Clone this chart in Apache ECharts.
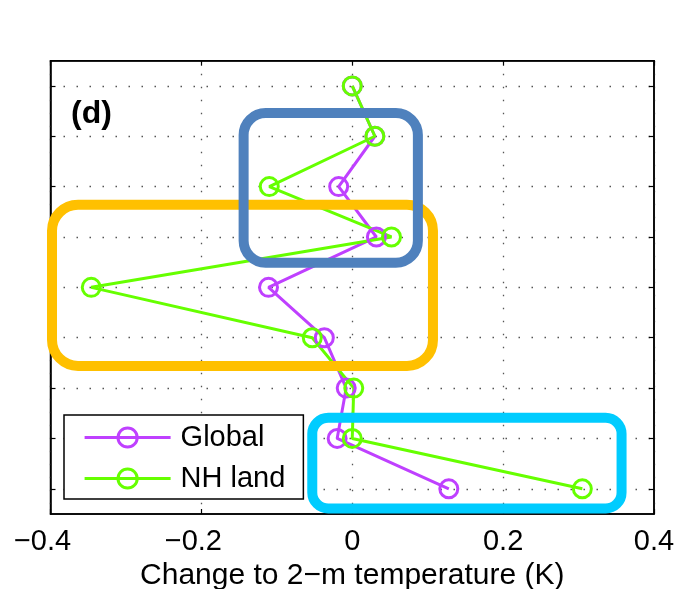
<!DOCTYPE html>
<html>
<head>
<meta charset="utf-8">
<script src="https://cdn.jsdelivr.net/npm/echarts@6/dist/echarts.min.js"></script>
<style>
html,body{margin:0;padding:0;background:#fff;}
#chart{width:677px;height:589px;}
</style>
</head>
<body>
<div id="chart"></div>
<script>
// Vertical positions (row index, top to bottom)
var rows = [1, 2, 3, 4, 5, 6, 7, 8, 9];
// Change to 2-m temperature (K)
var globalVals = [0.0, 0.03, -0.018, 0.032, -0.111, -0.037, -0.008, -0.020, 0.128];
var nhLandVals = [0.0, 0.03, -0.110, 0.052, -0.346, -0.053, 0.002, 0.000, 0.305];
var xTicks = [-0.4, -0.2, 0, 0.2, 0.4];
var seriesNames = ['Global', 'NH land'];
var panelLabel = '(d)';
var xAxisTitle = 'Change to 2\u2212m temperature (K)';
// Highlight boxes in data space: [xMin, xMax, rowTop, rowBottom]
var boxOrange = [-0.398, 0.107, 3.36, 6.56];
var boxBlue = [-0.144, 0.087, 1.54, 4.51];
var boxCyan = [-0.053, 0.357, 7.59, 9.39];

var PURPLE = '#BF40FF';
var GREEN = '#66FF00';
var FONT = '"Liberation Sans", Arial, Helvetica, sans-serif';

function pairs(xs) { return xs.map(function (v, i) { return [v, rows[i]]; }); }

var chart = echarts.init(document.getElementById('chart'), null, {renderer: 'canvas'});

var dotted = {color: '#555', width: 1.3, type: [1.5, 11.5]};
var frameLine = {show: true, onZero: false, lineStyle: {color: '#000', width: 1.5}};
var inTick = {show: true, inside: true, length: 5, lineStyle: {color: '#000', width: 1.2}};

function mkSeries(name, vals, color) {
  return {
    name: name, type: 'line', data: pairs(vals),
    symbol: 'circle', symbolSize: 18,
    itemStyle: {color: 'rgba(0,0,0,0)', borderColor: color, borderWidth: 3},
    lineStyle: {color: color, width: 3},
    emphasis: {disabled: true},
    z: 3
  };
}

var option = {
  animation: false,
  backgroundColor: '#fff',
  title: {
    text: panelLabel, left: 71, top: 98, padding: 0,
    textStyle: {fontFamily: FONT, fontSize: 32, fontWeight: 'bold', color: '#000'}
  },
  grid: {left: 50.5, right: 23, top: 60.7, bottom: 75, show: true, borderColor: '#000', borderWidth: 1.5,
         backgroundColor: 'transparent', outerBoundsMode: 'none', containLabel: false},
  legend: {
    orient: 'vertical', left: 64, top: 415,
    data: seriesNames,
    backgroundColor: '#fff', borderColor: '#000', borderWidth: 1.5, borderRadius: 0,
    padding: [8, 18, 6, 19],
    itemWidth: 86, itemHeight: 24, itemGap: 12,
    lineStyle: {width: 3.2},
    itemStyle: {borderWidth: 3},
    textStyle: {fontFamily: FONT, fontSize: 29, lineHeight: 24, color: '#000', padding: [0, 0, 0, 5]},
    selectedMode: false
  },
  xAxis: [{
    type: 'value', min: xTicks[0], max: xTicks[xTicks.length - 1], interval: 0.2,
    position: 'bottom',
    axisLine: frameLine, axisTick: inTick,
    axisLabel: {
      fontFamily: FONT, fontSize: 29, color: '#000', margin: 13,
      formatter: function (v) {
        var r = Math.round(v * 10) / 10;
        if (r === 0) return '0';
        if (r < 0) return '{n|' + String(r).replace('-', '\u2212') + '}';
        return String(r);
      },
      rich: {n: {fontFamily: FONT, fontSize: 29, color: '#000', padding: [0, 16, 0, 0]}}
    },
    splitLine: {show: true, lineStyle: dotted},
    name: xAxisTitle, nameLocation: 'middle', nameGap: 47,
    nameTextStyle: {fontFamily: FONT, fontSize: 30, color: '#000'}
  }, {
    type: 'value', min: xTicks[0], max: xTicks[xTicks.length - 1], interval: 0.2,
    position: 'top',
    axisLine: frameLine, axisTick: inTick,
    axisLabel: {show: false},
    splitLine: {show: false}
  }],
  yAxis: [{
    type: 'value', min: 0.5, max: 9.5, inverse: true,
    position: 'left',
    axisLine: frameLine,
    axisTick: {show: true, inside: true, length: 5, customValues: rows, lineStyle: {color: '#000', width: 1.2}},
    axisLabel: {show: false, customValues: rows},
    splitLine: {show: true, lineStyle: dotted}
  }, {
    type: 'value', min: 0.5, max: 9.5, inverse: true,
    position: 'right',
    axisLine: frameLine,
    axisTick: {show: true, inside: true, length: 5, customValues: rows, lineStyle: {color: '#000', width: 1.2}},
    axisLabel: {show: false, customValues: rows},
    splitLine: {show: false}
  }],
  series: [
    mkSeries(seriesNames[0], globalVals, PURPLE),
    mkSeries(seriesNames[1], nhLandVals, GREEN)
  ]
};
chart.setOption(option);

function boxGraphic(b, color, r) {
  var p1 = chart.convertToPixel({xAxisIndex: 0, yAxisIndex: 0}, [b[0], b[2]]);
  var p2 = chart.convertToPixel({xAxisIndex: 0, yAxisIndex: 0}, [b[1], b[3]]);
  return {
    type: 'rect', z: 100,
    shape: {x: p1[0], y: p1[1], width: p2[0] - p1[0], height: p2[1] - p1[1], r: r},
    style: {fill: null, stroke: color, lineWidth: 10}
  };
}
chart.setOption({
  graphic: [
    boxGraphic(boxOrange, '#FFC000', 26),
    boxGraphic(boxBlue, '#4F81BD', 22),
    boxGraphic(boxCyan, '#00CCFF', 16)
  ]
});
</script>
</body>
</html>
